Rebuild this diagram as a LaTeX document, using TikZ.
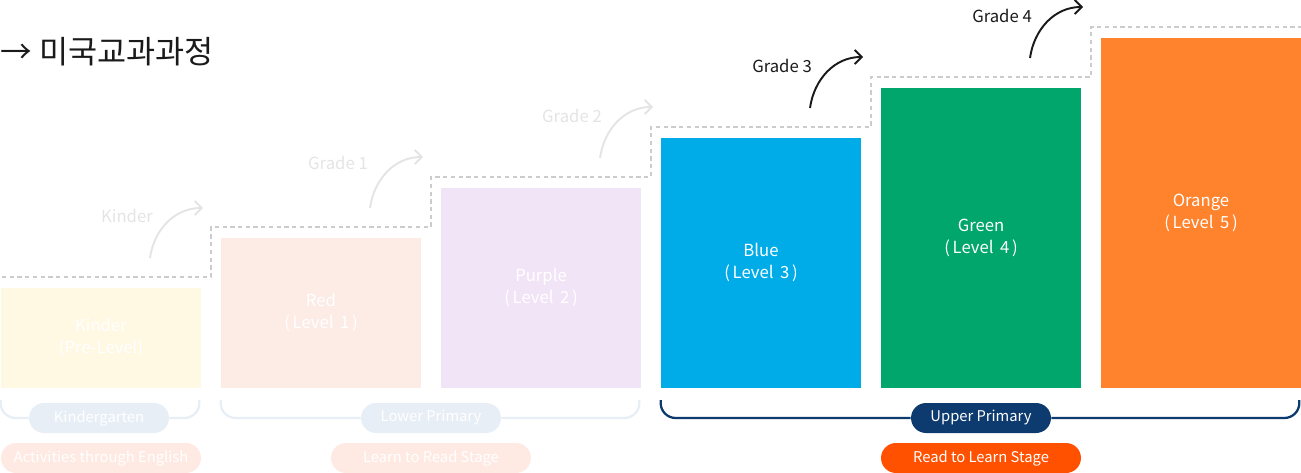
\documentclass[tikz,border=0pt]{standalone}
\usepackage{fontspec}
\setmainfont{Noto Sans CJK KR}
\usetikzlibrary{arrows.meta,calc}

\definecolor{kinderfill}{HTML}{FFF8E3}
\definecolor{redfill}{HTML}{FDEBE6}
\definecolor{purplefill}{HTML}{F1E4F6}
\definecolor{bluefill}{HTML}{00ACE8}
\definecolor{greenfill}{HTML}{00A66B}
\definecolor{orangefill}{HTML}{FF832D}
\definecolor{dashgray}{HTML}{CCCCCC}
\definecolor{fadegray}{HTML}{E4E4E4}
\definecolor{ink}{HTML}{1A1A1A}
\definecolor{palebrace}{HTML}{E8EEF6}
\definecolor{navy}{HTML}{0E3B6F}
\definecolor{palepeach}{HTML}{FEEAE3}
\definecolor{redorange}{HTML}{FF5100}

\begin{document}
\begin{tikzpicture}[x=0.02cm, y=-0.02cm,
    bar/.style={rectangle, anchor=south, minimum width=4cm, inner sep=0pt,
        text=white, align=center, font=\fontsize{9.5}{12.5}\selectfont},
    pill/.style={rectangle, rounded corners=0.3cm, minimum height=0.6cm,
        inner sep=0pt, text=white, font=\fontsize{8.4}{10}\selectfont},
    gradelabel/.style={font=\fontsize{9.5}{11}\selectfont},
    steparrow/.style={line width=1.1pt, -{Straight Barb[length=4pt,width=8pt]}},
    brace/.style={line width=1.3pt, rounded corners=0.3cm}]

    \useasboundingbox (0,0) rectangle (1301,473);

    % title
    \node[anchor=west, inner sep=0pt, text=ink, font=\fontsize{18}{20}\selectfont] (title) at (0,52) {→ 미국교과과정};

    % staircase
    \draw[dashgray, line width=1.1pt, dash pattern=on 2.4pt off 2pt]
        (2,277) -| (211,227) -| (431,177) -| (651,127) -| (871,77) -| (1091,27) -- (1301,27);

    % level bars
    \node[bar, fill=kinderfill, minimum height=2cm] (K) at (101,388) {Kinder\\(Pre-Level)};
    \node[bar, fill=redfill, minimum height=3cm] (R) at (321,388) {Red\\(\,Level\, 1\,)};
    \node[bar, fill=purplefill, minimum height=4cm] (P) at (541,388) {Purple\\(\,Level\, 2\,)};
    \node[bar, fill=bluefill, minimum height=5cm] (B) at (761,388) {Blue\\(\,Level\, 3\,)};
    \node[bar, fill=greenfill, minimum height=6cm] (G) at (981,388) {Green\\(\,Level\, 4\,)};
    \node[bar, fill=orangefill, minimum height=7cm] (O) at (1201,388) {Orange\\(\,Level\, 5\,)};

    % grade arrows
    \node[gradelabel, text=fadegray] (kin) at (127,216) {Kinder};
    \node[gradelabel, text=fadegray] (g1) at (338,163) {Grade 1};
    \node[gradelabel, text=fadegray] (g2) at (572,116) {Grade 2};
    \node[gradelabel, text=ink] (g3) at (782,66) {Grade 3};
    \node[gradelabel, text=ink] (g4) at (1002,16) {Grade 4};

    \coordinate (kin0) at (150,258);  \coordinate (kin1) at (203,208);
    \coordinate (g10) at (370,208);   \coordinate (g11) at (423,157);
    \coordinate (g20) at (600,158);   \coordinate (g21) at (653,107);
    \coordinate (g30) at (810,108);   \coordinate (g31) at (863,57);
    \coordinate (g40) at (1030,58);   \coordinate (g41) at (1083,7);

    \draw[steparrow, fadegray] (kin0) to[out=82, in=180] (kin1);
    \draw[steparrow, fadegray] (g10) to[out=82, in=180] (g11);
    \draw[steparrow, fadegray] (g20) to[out=82, in=180] (g21);
    \draw[steparrow, ink] (g30) to[out=82, in=180] (g31);
    \draw[steparrow, ink] (g40) to[out=82, in=180] (g41);

    % school pills
    \node[pill, fill=palebrace, minimum width=2.8cm] (kg) at (99,418) {Kindergarten};
    \node[pill, fill=palebrace, minimum width=2.8cm] (lp) at (431,418) {Lower Primary};
    \node[pill, fill=navy, minimum width=2.8cm] (up) at (981,418) {Upper Primary};

    \draw[brace, palebrace] ($(K.south west)+(0,12)$) |- (kg.west);
    \draw[brace, palebrace] (kg.east) -| ($(K.south east)+(-2,12)$);
    \draw[brace, palebrace] ($(R.south west)+(0,12)$) |- (lp.west);
    \draw[brace, palebrace] (lp.east) -| ($(P.south east)+(-2,12)$);
    \draw[brace, navy] ($(B.south west)+(0,12)$) |- (up.west);
    \draw[brace, navy] (up.east) -| ($(O.south east)+(-2,12)$);

    % stage pills
    \node[pill, fill=palepeach, minimum width=4cm] (ate) at (101,458) {Activities through English};
    \node[pill, fill=palepeach, minimum width=4cm] (lrs) at (431,458) {Learn to Read Stage};
    \node[pill, fill=redorange, minimum width=4cm] (rls) at (981,458) {Read to Learn Stage};

\end{tikzpicture}
\end{document}
